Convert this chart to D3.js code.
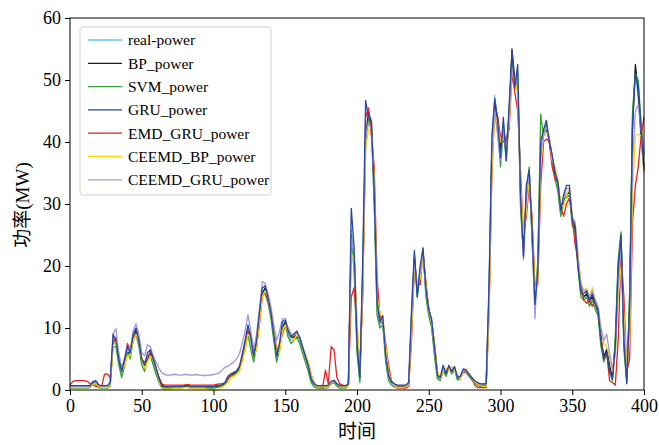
<!DOCTYPE html>
<html>
<head>
<meta charset="utf-8">
<script src="https://cdn.jsdelivr.net/npm/d3@7"></script>
<style>
body { margin: 0; background: #fff; }
text { font-family: "Liberation Serif", "Times New Roman", "Noto Sans CJK SC", serif; }
</style>
</head>
<body>
<div id="chart"></div>
<script>
// time step between samples (values read every 2 units off the picture)
var step = 2;
var xTicks = [0, 50, 100, 150, 200, 250, 300, 350, 400];
var yTicks = [0, 10, 20, 30, 40, 50, 60];
var xLabel = "时间";
var yLabel = "功率(MW)";

var realPower = [
0.5,0.5,0.5,0.5,0.5,0.5,0.5,0.6,1.2,1.3,
0.6,0.5,0.5,0.5,1.0,8.5,7.5,4.5,2.5,4.5,
6.5,5.5,8.5,9.5,7.5,4.5,3.5,5.5,6.0,4.5,
3.0,1.5,0.4,0.3,0.3,0.3,0.4,0.4,0.4,0.4,
0.6,0.5,0.4,0.4,0.4,0.4,0.4,0.4,0.4,0.4,
0.4,0.5,0.6,0.6,1.0,2.0,2.4,2.6,2.9,3.5,
5.5,7.5,10.0,8.0,5.0,7.5,12.0,16.0,16.2,14.5,
12.0,8.5,5.0,7.0,10.5,11.0,9.0,8.0,8.5,9.0,
8.0,6.5,5.0,3.5,1.5,0.8,0.5,0.5,0.5,0.5,
0.6,1.2,1.4,0.8,0.5,0.5,0.5,0.8,26.0,20.0,
7.0,1.5,20.0,42.0,44.0,42.0,30.0,13.0,10.5,11.0,
5.0,2.0,1.2,0.8,0.6,0.6,0.6,0.6,1.0,12.0,
22.0,15.5,19.5,22.5,15.5,12.5,10.5,6.0,2.0,1.8,
3.5,2.5,3.8,2.8,3.5,1.8,2.0,3.2,3.0,2.4,
1.8,1.3,1.0,0.8,0.8,0.8,16.0,40.0,47.5,43.0,
38.0,43.0,38.5,45.0,54.0,49.0,50.0,30.0,23.0,31.0,
34.5,25.0,14.0,20.0,39.0,41.0,42.0,40.0,37.0,34.5,
33.0,28.5,31.0,31.5,32.0,27.0,26.0,20.0,15.5,15.0,
15.5,14.0,15.0,13.5,12.5,7.5,5.0,6.5,3.5,2.0,
8.0,20.0,24.5,7.0,1.5,15.0,44.0,52.0,47.0,40.0,
35.0];

var bpPower = [
0.6,0.6,0.6,0.6,0.6,0.6,0.6,0.6,1.0,1.3,
0.8,0.6,0.6,0.6,0.8,7.5,8.0,5.0,3.0,4.0,
6.0,6.0,8.0,9.5,8.0,5.0,4.0,5.0,6.0,5.0,
3.5,2.0,0.8,0.5,0.5,0.5,0.5,0.5,0.5,0.5,
0.6,0.6,0.5,0.5,0.5,0.5,0.5,0.5,0.5,0.5,
0.5,0.5,0.6,0.7,1.0,1.8,2.3,2.6,2.9,3.4,
5.0,7.0,9.5,8.5,5.5,7.0,11.5,15.5,16.5,15.0,
12.5,9.0,5.5,6.5,10.0,11.0,9.5,8.5,8.5,9.0,
8.5,7.0,5.5,4.0,2.0,1.0,0.6,0.6,0.6,0.6,
0.6,1.0,1.3,1.0,0.6,0.6,0.6,0.6,24.0,22.0,
9.0,2.5,17.0,40.0,45.0,43.0,33.0,15.0,11.0,11.0,
6.0,2.5,1.3,0.8,0.6,0.6,0.6,0.6,0.8,10.0,
21.0,16.5,18.5,22.0,16.5,13.0,11.0,7.0,2.5,1.8,
3.2,2.8,3.5,3.0,3.4,2.0,2.0,3.0,3.0,2.5,
2.0,1.4,1.0,0.8,0.8,0.8,14.0,38.0,46.0,44.0,
39.0,42.0,39.5,44.0,55.0,50.0,49.0,32.0,24.0,30.0,
34.0,26.0,15.0,19.0,37.0,41.5,42.0,40.5,37.5,35.0,
33.5,29.0,30.5,31.5,32.0,27.5,26.0,20.5,16.0,15.0,
15.5,14.5,15.0,14.0,12.5,8.0,5.5,6.5,4.0,2.0,
7.0,19.0,25.0,8.5,2.0,13.0,42.0,52.5,48.0,41.0,
36.0];

var svmPower = [
0.3,0.3,0.3,0.3,0.3,0.3,0.3,0.4,0.9,1.0,
0.4,0.3,0.3,0.3,0.6,7.0,7.0,4.0,2.0,3.8,
6.0,5.0,8.0,9.0,7.0,4.0,3.0,5.0,5.5,4.0,
2.5,1.2,0.3,0.2,0.2,0.2,0.3,0.3,0.3,0.3,
0.8,0.5,0.3,0.3,0.3,0.3,0.3,0.3,0.3,0.3,
0.3,0.4,0.5,0.5,0.8,1.8,2.2,2.4,2.7,3.2,
5.0,7.0,9.0,6.5,4.5,7.0,11.5,15.5,15.5,14.0,
11.5,8.0,4.5,6.5,10.0,10.5,8.5,7.5,8.0,8.5,
7.5,6.0,4.5,3.0,1.2,0.5,0.3,0.3,0.3,0.3,
0.4,1.0,1.2,0.6,0.3,0.3,0.3,0.6,25.0,19.0,
6.0,1.2,19.0,41.0,43.5,43.5,30.0,12.0,10.0,10.5,
4.5,1.5,0.8,0.5,0.4,0.4,0.4,0.4,0.8,11.5,
21.5,15.0,19.0,23.0,15.0,12.0,10.0,5.5,1.8,1.5,
3.2,2.2,3.5,2.6,3.2,1.6,1.8,3.0,2.8,2.2,
1.6,1.1,0.8,0.6,0.6,0.6,15.0,39.0,45.0,42.0,
36.0,42.0,37.0,44.0,53.0,48.5,51.0,29.0,22.0,32.0,
36.0,24.0,13.5,21.0,44.5,41.0,43.0,40.0,37.0,34.0,
32.0,28.0,30.5,31.0,31.5,26.5,25.5,19.5,15.0,14.5,
15.0,13.5,14.5,13.0,12.0,7.0,4.5,6.0,3.0,1.5,
8.5,21.0,25.5,6.5,1.2,16.0,45.0,51.0,50.0,43.0,
38.0];

var gruPower = [
0.7,0.7,0.7,0.7,0.7,0.7,0.7,0.7,1.4,1.5,
0.8,0.7,0.7,0.7,1.2,9.0,8.0,5.0,3.0,5.0,
7.0,6.0,9.0,10.0,8.0,5.0,4.0,6.0,6.5,5.0,
3.5,1.8,0.6,0.5,0.5,0.5,0.6,0.6,0.6,0.6,
0.7,0.7,0.6,0.6,0.6,0.6,0.6,0.6,0.6,0.6,
0.6,0.7,0.8,0.8,1.2,2.2,2.6,2.8,3.1,3.7,
5.8,8.0,10.5,8.5,5.5,8.0,12.5,16.5,16.8,15.0,
12.5,9.0,5.5,7.5,11.0,11.3,9.5,8.5,9.0,9.5,
8.5,7.0,5.5,4.0,1.8,1.0,0.7,0.7,0.7,0.7,
0.8,1.4,1.6,1.0,0.7,0.7,0.7,1.0,29.3,23.0,
7.5,2.0,21.0,46.7,44.0,43.5,32.0,14.0,11.0,12.0,
5.5,2.4,1.4,1.0,0.8,0.8,0.8,0.8,1.2,13.0,
22.5,15.0,20.0,22.8,16.5,13.0,11.5,7.0,2.4,2.0,
4.0,2.6,4.0,3.0,3.8,2.0,2.2,3.4,3.2,2.6,
2.0,1.5,1.2,1.0,1.0,1.0,17.0,41.0,47.0,43.5,
37.5,44.0,37.0,46.0,54.5,49.0,52.5,31.0,21.5,33.0,
35.5,26.0,13.8,19.0,40.0,42.0,43.5,40.0,38.0,35.0,
33.5,29.0,31.5,33.0,33.0,27.5,26.5,20.0,16.0,15.5,
16.0,14.5,15.5,14.0,13.0,8.0,5.0,6.0,3.0,1.8,
7.0,20.0,25.0,8.0,1.0,14.0,43.0,51.0,49.0,42.0,
35.5];

var emdGruPower = [
0.8,1.4,1.5,1.5,1.5,1.5,1.4,1.0,0.8,0.6,
0.5,0.5,2.5,2.6,2.0,7.5,8.5,5.5,3.5,4.5,
7.5,6.5,8.0,9.0,8.0,5.0,4.5,5.0,6.0,5.5,
3.5,2.0,1.0,0.8,0.8,0.8,0.8,0.8,0.8,0.8,
0.8,0.9,0.8,0.8,0.8,0.8,0.8,0.8,0.8,0.8,
0.8,0.9,1.0,1.0,1.2,1.8,2.4,2.8,3.0,3.8,
5.0,6.5,9.5,9.0,6.0,7.0,10.5,15.0,15.8,14.5,
12.5,10.0,6.5,7.0,9.0,10.5,10.0,9.0,8.5,8.5,
8.5,7.0,5.5,4.5,2.5,1.2,0.5,0.5,0.3,3.2,
1.0,7.0,6.5,2.0,1.0,0.8,0.5,0.8,15.0,16.5,
10.0,3.5,15.0,44.0,45.5,41.0,36.0,18.0,12.0,11.0,
7.5,4.0,1.5,0.8,0.3,0.3,0.3,0.3,0.6,8.0,
20.0,17.0,17.0,22.0,17.5,13.0,11.0,7.5,3.0,1.8,
3.0,3.0,3.2,3.3,3.2,2.4,2.0,2.8,3.0,2.6,
2.0,0.8,0.4,0.4,0.4,0.4,12.0,35.0,45.5,44.0,
41.0,40.0,40.0,42.0,51.0,48.0,45.0,35.0,25.0,28.0,
33.0,28.0,17.0,17.0,33.0,40.0,40.5,40.0,36.0,34.0,
33.5,29.5,28.0,30.0,31.0,28.0,23.5,21.0,17.0,14.5,
14.0,14.5,13.5,14.5,12.5,9.0,5.0,6.0,1.5,1.2,
0.8,8.0,22.0,15.0,3.0,5.0,27.0,33.0,36.0,41.0,
44.0];

var ceemdBpPower = [
0.4,0.4,0.4,0.4,0.4,0.4,0.4,0.5,0.9,1.1,
0.6,0.4,0.4,0.4,0.8,7.0,8.0,5.5,3.0,4.0,
5.5,5.5,8.0,9.0,8.0,5.0,3.5,4.5,5.5,5.0,
3.5,1.5,0.4,0.3,0.3,0.3,0.3,0.3,0.3,0.3,
0.4,0.4,0.3,0.3,0.3,0.3,0.3,0.2,0.1,0.0,
0.0,0.0,0.2,0.5,0.8,1.2,1.8,2.2,2.5,3.0,
4.5,6.5,9.0,8.5,5.5,6.5,11.0,15.0,16.0,15.0,
12.5,9.5,6.0,6.0,9.5,10.5,9.5,8.5,8.0,9.0,
8.5,7.0,6.0,4.5,2.5,1.0,0.5,0.5,0.5,0.5,
0.5,1.0,1.5,1.0,0.5,0.5,0.5,0.5,22.0,21.0,
12.0,3.0,16.0,39.0,42.0,42.5,34.0,15.0,12.5,11.5,
7.0,3.0,1.5,0.8,0.4,0.4,0.4,0.5,0.8,9.5,
20.0,17.0,18.0,21.5,17.0,13.0,11.0,7.5,3.0,1.8,
3.0,3.5,3.0,3.8,3.0,2.4,1.8,3.0,3.5,2.6,
2.0,1.3,1.0,0.8,0.6,0.6,12.0,36.0,44.5,43.0,
40.0,41.0,39.0,43.0,51.5,50.0,48.0,33.0,25.0,29.0,
34.0,27.0,16.0,17.5,36.0,41.0,41.5,41.0,37.0,36.0,
34.0,30.0,29.5,31.5,32.5,28.0,27.0,22.0,17.5,16.0,
16.5,15.0,16.5,14.5,13.0,10.0,7.5,7.0,5.5,3.0,
5.5,15.0,20.0,12.0,3.5,8.0,32.0,41.0,41.3,41.0,
35.0];

var ceemdGruPower = [
0.6,0.6,0.6,0.6,0.6,0.6,0.6,0.7,1.3,1.4,
0.8,0.6,0.6,0.6,1.0,9.0,9.9,6.0,3.5,5.0,
7.0,6.5,9.5,10.7,9.0,6.0,5.5,7.3,7.0,5.5,
4.5,3.5,2.8,2.5,2.4,2.4,2.5,2.5,2.4,2.4,
2.5,2.5,2.4,2.4,2.5,2.4,2.4,2.3,2.4,2.4,
2.5,2.6,2.8,3.2,3.7,3.8,4.2,4.5,5.0,5.8,
7.5,9.5,12.1,9.5,6.5,9.0,13.0,17.5,17.2,15.5,
13.5,10.5,8.0,9.5,11.5,11.5,10.0,9.0,9.0,9.5,
8.5,7.0,5.5,4.0,2.0,1.0,0.7,0.7,0.7,0.7,
0.7,1.2,1.5,1.0,0.7,0.7,0.7,0.9,24.5,21.5,
8.0,2.5,18.0,41.0,43.0,42.0,33.0,14.5,11.0,11.0,
5.5,2.4,1.4,1.0,0.7,0.7,0.7,0.7,1.0,11.0,
21.0,16.0,19.0,22.0,16.0,13.0,11.0,6.5,2.4,2.0,
3.6,2.8,3.6,3.0,3.6,2.0,2.2,3.2,3.0,2.6,
2.0,1.5,1.2,1.0,1.0,1.0,15.0,39.0,45.0,41.0,
37.0,42.0,38.0,44.0,52.0,49.0,50.5,31.0,21.0,31.5,
35.0,25.0,11.5,20.5,38.0,41.0,42.5,40.5,37.5,35.5,
33.5,29.5,31.0,32.5,32.5,28.0,27.0,21.5,17.0,16.0,
16.0,15.0,16.0,14.5,13.5,10.0,8.0,9.0,6.0,3.5,
6.0,17.0,23.0,9.5,2.5,11.0,37.0,45.0,46.0,42.0,
38.0];

var seriesNames = ["real-power", "BP_power", "SVM_power", "GRU_power", "EMD_GRU_power", "CEEMD_BP_power", "CEEMD_GRU_power"];
var seriesValues = [realPower, bpPower, svmPower, gruPower, emdGruPower, ceemdBpPower, ceemdGruPower];
var seriesColors = ["#62c6ea", "#1e1e1e", "#36a336", "#2a47a3", "#e5221f", "#ffd500", "#a595dc"];
// GRU drawn last so it sits on top like in the picture
var drawOrder = [0, 1, 2, 4, 5, 6, 3];

var mrg = { top: 18, right: 15, bottom: 55, left: 70 },
    svgWidth = 659 - mrg.left - mrg.right,
    svgHeight = 445 - mrg.top - mrg.bottom;

var svg = d3.select("#chart")
  .append("svg")
  .attr("width", 659)
  .attr("height", 445);
var chart = svg.append("g")
  .attr("transform", `translate(${mrg.left}, ${mrg.top})`);

var xScale = d3.scaleLinear().domain([0, 400]).range([0, svgWidth]);
var yScale = d3.scaleLinear().domain([0, 60]).range([svgHeight, 0]);

var line = d3.line()
  .x(function(d, i) { return xScale(i * step); })
  .y(function(d) { return yScale(d); });

drawOrder.forEach(function(k) {
  chart.append("path")
    .datum(seriesValues[k])
    .attr("fill", "none")
    .attr("stroke", seriesColors[k])
    .attr("stroke-width", 1.3)
    .attr("stroke-linejoin", "round")
    .attr("d", line);
});

// axes
var xAxis = chart.append("g")
  .attr("transform", `translate(0, ${svgHeight})`)
  .call(d3.axisBottom(xScale).tickValues(xTicks).tickSize(5).tickSizeOuter(0).tickPadding(4));
var yAxis = chart.append("g")
  .call(d3.axisLeft(yScale).tickValues(yTicks).tickSize(5).tickSizeOuter(0).tickPadding(4));
[xAxis, yAxis].forEach(function(a) {
  a.select(".domain").remove();
  a.selectAll("line").attr("stroke", "#000");
  a.selectAll("text").attr("fill", "#000").style("font-size", "18px");
});

chart.append("rect")
  .attr("width", svgWidth)
  .attr("height", svgHeight)
  .attr("fill", "none")
  .attr("stroke", "#000")
  .attr("stroke-width", 1);

// axis titles
svg.append("text")
  .attr("x", mrg.left + svgWidth / 2)
  .attr("y", 438)
  .attr("text-anchor", "middle")
  .style("font-size", "19px")
  .text(xLabel);
svg.append("text")
  .attr("transform", "translate(29, 205) rotate(-90)")
  .attr("text-anchor", "middle")
  .style("font-size", "19px")
  .text(yLabel);

// legend
var legend = chart.append("g").attr("transform", "translate(10, 9)");
legend.append("rect")
  .attr("width", 191)
  .attr("height", 168)
  .attr("rx", 3)
  .attr("fill", "#fff")
  .attr("fill-opacity", 0.85)
  .attr("stroke", "#d0d0d0");
seriesNames.forEach(function(name, i) {
  var yy = 13 + i * 23.3;
  legend.append("line")
    .attr("x1", 8).attr("x2", 42)
    .attr("y1", yy).attr("y2", yy)
    .attr("stroke", seriesColors[i])
    .attr("stroke-width", 1.3);
  legend.append("text")
    .attr("x", 48)
    .attr("y", yy)
    .attr("dy", "0.35em")
    .style("font-size", "15.5px")
    .text(name);
});
</script>
</body>
</html>
